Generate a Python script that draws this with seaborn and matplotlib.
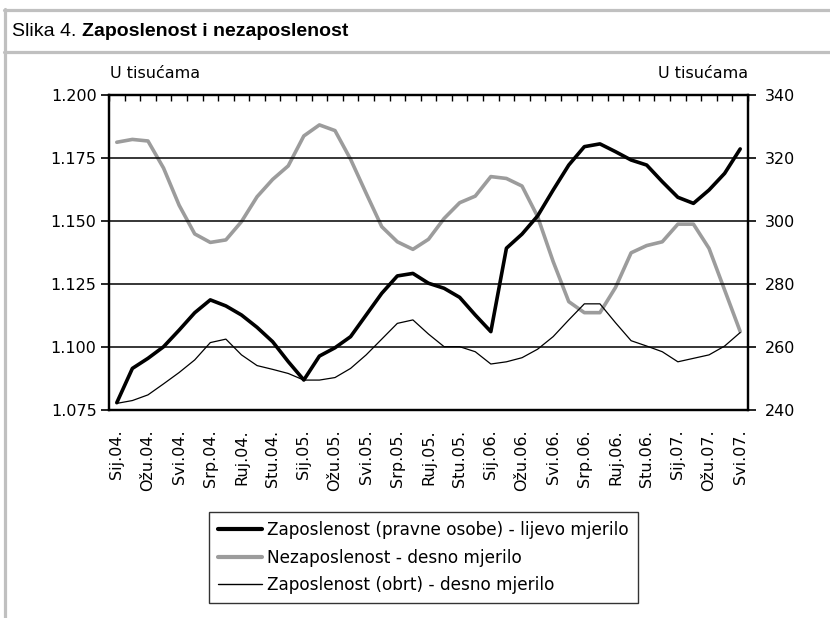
import numpy as np
import pandas as pd
import matplotlib
matplotlib.use("Agg")
import matplotlib.pyplot as plt
import seaborn as sns
from matplotlib.lines import Line2D

# ---------------- data ----------------
months = ["Sij", "Velj", "Ožu", "Tra", "Svi", "Lip", "Srp", "Kol", "Ruj", "Lis", "Stu", "Pro"]
years = ["04", "05", "06", "07"]
n_points = 41

pravne = [1.0779, 1.0915, 1.0955, 1.1001, 1.1067, 1.1136, 1.1187, 1.1163, 1.1127, 1.1078,
          1.1021, 1.0942, 1.0869, 1.0964, 1.0997, 1.1041, 1.1127, 1.1213, 1.1282, 1.1292,
          1.1253, 1.1233, 1.1197, 1.1127, 1.1061, 1.1392, 1.1448, 1.1520, 1.1623, 1.1722,
          1.1795, 1.1806, 1.1775, 1.1742, 1.1722, 1.1656, 1.1594, 1.1570, 1.1623, 1.1689,
          1.1786]
nezaposlenost = [325.0, 325.9, 325.4, 316.8, 305.0, 295.9, 293.2, 294.0, 299.8, 307.7,
                 313.2, 317.5, 327.0, 330.5, 328.7, 319.6, 308.8, 298.2, 293.4, 291.0,
                 294.2, 300.8, 305.8, 307.9, 314.1, 313.5, 311.1, 301.4, 287.1, 274.4,
                 270.9, 270.9, 278.9, 289.9, 292.2, 293.4, 299.0, 299.0, 291.3, 278.1,
                 264.9]
obrt = [242.1, 243.0, 244.8, 248.3, 251.9, 255.9, 261.4, 262.5, 257.5, 254.1,
        252.9, 251.6, 249.5, 249.5, 250.3, 253.2, 257.5, 262.5, 267.5, 268.6,
        264.1, 260.1, 260.1, 258.5, 254.6, 255.3, 256.6, 259.3, 263.3, 268.6,
        273.7, 273.7, 267.7, 262.0, 260.3, 258.5, 255.3, 256.4, 257.5, 260.3,
        264.6]

left_ticks = [1.075, 1.100, 1.125, 1.150, 1.175, 1.200]
right_ticks = [240, 260, 280, 300, 320, 340]

lbl_pravne = "Zaposlenost (pravne osobe) - lijevo mjerilo"
lbl_nezap = "Nezaposlenost - desno mjerilo"
lbl_obrt = "Zaposlenost (obrt) - desno mjerilo"

period_labels = [f"{months[i % 12]}.{years[i // 12]}." for i in range(n_points)]
df = pd.DataFrame({"idx": np.arange(n_points), "pravne": pravne,
                   "nezap": nezaposlenost, "obrt": obrt})

# ---------------- style ----------------
sns.set_theme(style="white")
plt.rcParams["font.family"] = ["DejaVu Sans"]
plt.rcParams["font.size"] = 11.5
for k in ("text.color", "axes.labelcolor", "xtick.color", "ytick.color"):
    plt.rcParams[k] = "black"

W, H = 830, 618
fig = plt.figure(figsize=(W / 100, H / 100), dpi=100)
ax = fig.add_axes([109 / W, 1 - 410 / H, (748 - 109) / W, (410 - 95) / H])
ax2 = ax.twinx()

GRAY = "#9c9c9c"

# gridlines (left scale)
for v in left_ticks[1:-1]:
    ax.axhline(v, color="black", lw=1.1, zorder=1)

sns.lineplot(data=df, x="idx", y="nezap", ax=ax2, color=GRAY, lw=2.6,
             label=lbl_nezap, legend=False, zorder=3)
sns.lineplot(data=df, x="idx", y="obrt", ax=ax2, color="black", lw=0.9,
             label=lbl_obrt, legend=False, zorder=3)
sns.lineplot(data=df, x="idx", y="pravne", ax=ax, color="black", lw=2.6,
             label=lbl_pravne, legend=False, zorder=4)
ax.set_zorder(ax2.get_zorder() + 1)
ax.patch.set_visible(False)

ax.set_xlim(-0.5, n_points - 0.5)
ax.set_ylim(1.075, 1.200)
ax2.set_ylim(240, 340)

ax.set_yticks(left_ticks)
ax.set_yticklabels([f"{v:.3f}" for v in left_ticks])
ax2.set_yticks(right_ticks)
ax2.set_yticklabels([str(v) for v in right_ticks])

ax.set_xticks(np.arange(0, n_points, 2))
ax.set_xticklabels(period_labels[::2], rotation=90)
ax.set_xticks(np.arange(-0.5, n_points, 1), minor=True)
ax.tick_params(axis="x", which="major", bottom=False, top=False, length=0, pad=14,
               labelsize=11.5, labelcolor="black")
ax.tick_params(axis="x", which="minor", bottom=False, top=True, direction="in",
               length=4, width=1, color="black")
ax.tick_params(axis="y", which="major", left=True, direction="out", length=6, width=1.2,
               color="black", pad=3, labelsize=11.5, labelcolor="black")
ax2.tick_params(axis="y", which="major", right=True, direction="out", length=6, width=1.2,
                color="black", pad=6, labelsize=11.5, labelcolor="black")
ax.set_xlabel("")
ax.set_ylabel("")
ax2.set_ylabel("")
ax2.set_xlabel("")
for a in (ax, ax2):
    for s in a.spines.values():
        s.set_color("black")
        s.set_linewidth(1.6)
        s.set_visible(True)

# unit labels
fig.text(110 / W, 1 - 73 / H, "U tisućama", ha="left", va="center", fontsize=11.5)
fig.text(748 / W, 1 - 73 / H, "U tisućama", ha="right", va="center", fontsize=11.5)

# legend
handles = [Line2D([], [], color="black", lw=3.0),
           Line2D([], [], color=GRAY, lw=3.0),
           Line2D([], [], color="black", lw=1.0)]
leg = fig.legend(handles, [lbl_pravne, lbl_nezap, lbl_obrt],
                 loc="upper left", bbox_to_anchor=(209 / W, 1 - 512 / H),
                 frameon=True, fancybox=False, shadow=False, fontsize=12.2,
                 handlelength=2.6, handletextpad=0.3, labelspacing=0.55,
                 borderpad=0.55, borderaxespad=0.0)
leg.get_frame().set_edgecolor("black")
leg.get_frame().set_linewidth(1.0)
for t in leg.get_texts():
    t.set_color("black")

# title band and frame
FRAME = "#c0c0c0"
for (x0, y0, x1, y1) in [(4, 10, 830, 10), (4, 52, 830, 52), (5, 9, 5, 618)]:
    fig.add_artist(Line2D([x0 / W, x1 / W], [1 - y0 / H, 1 - y1 / H],
                          transform=fig.transFigure, color=FRAME, lw=2.3))

TFAM = ["Liberation Sans Narrow", "Liberation Sans"]
t1 = fig.text(12 / W, 1 - 31 / H, "Slika 4. ", ha="left", va="center", fontsize=14,
              family=TFAM, color="black")
ax.annotate("Zaposlenost i nezaposlenost", xy=(1, 0.5), xycoords=t1,
            ha="left", va="center", fontsize=14, fontweight="bold",
            family=TFAM, color="black", annotation_clip=False)

fig.savefig("out.png", dpi=100)
